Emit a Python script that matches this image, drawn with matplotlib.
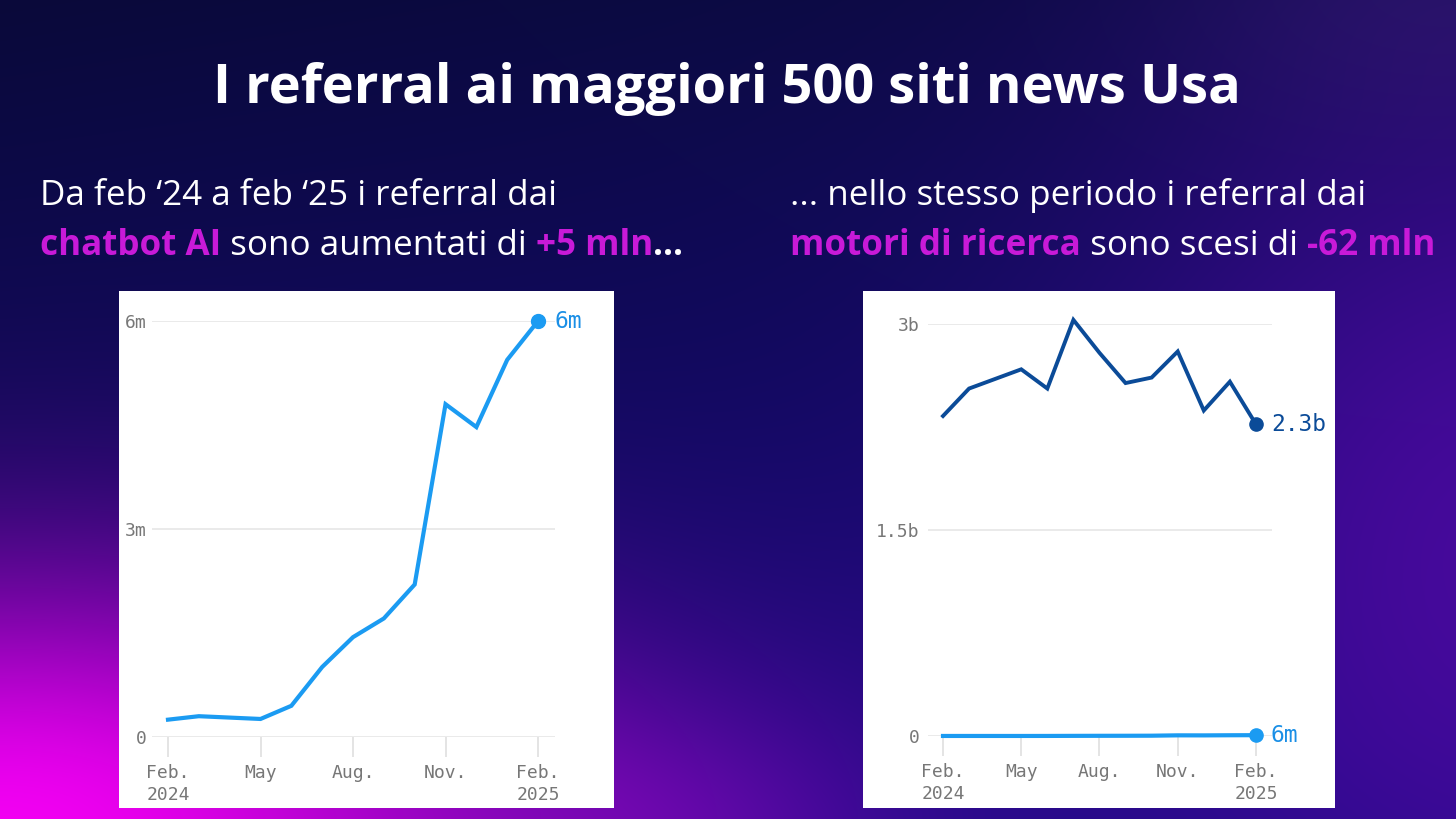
import numpy as np
import matplotlib
matplotlib.use("Agg")
import matplotlib.pyplot as plt
from matplotlib.patches import Rectangle
from matplotlib.colors import to_rgb

# ---------------- data ----------------
title = "I referral ai maggiori 500 siti news Usa"
tick_idx = [0, 3, 6, 9, 12]
tick_labels = ["Feb.\n2024", "May", "Aug.", "Nov.", "Feb.\n2025"]
# monthly referrals Feb 2024 .. Feb 2025
chatbot_m = [0.25, 0.30, 0.28, 0.26, 0.45, 1.01, 1.44, 1.71, 2.20, 4.80, 4.47, 5.44, 6.00]   # millions
search_b = [2.33, 2.53, 2.60, 2.67, 2.53, 3.03, 2.79, 2.57, 2.61, 2.80, 2.37, 2.58, 2.27]    # billions
left_yticks = [0, 3, 6]
left_ylabels = ["0", "3m", "6m"]
right_yticks = [0, 1.5, 3]
right_ylabels = ["0", "1.5b", "3b"]
left_end_label = "6m"
right_end_labels = ["2.3b", "6m"]

W, H, DPI = 1456, 819, 100
MAG = "#c81ad8"
LIGHT = "#1b9bf2"
LIGHT_TXT = "#1a8fe6"
DARK = "#0b4b98"
GRAY = "#777777"
SANS = ["Open Sans", "DejaVu Sans"]
MONO = ["DejaVu Sans Mono"]

fig = plt.figure(figsize=(W / DPI, H / DPI), dpi=DPI)

def fx(px):
    return px / W

def fy(py):
    return 1 - py / H

# ---------------- background ----------------
yy, xx = np.mgrid[0:H, 0:W].astype(float)

def col(h):
    return np.array(to_rgb(h))

s = np.clip(yy / H * 0.85 + xx / W * 0.25, 0, 1)[..., None]
img = col("#0a0a3a") * (1 - s) + col("#160a80") * s

def blob(img, cx, cy, sx, sy, c, a):
    w = a * np.exp(-(((xx - cx) / sx) ** 2 + ((yy - cy) / sy) ** 2) / 2)[..., None]
    return img * (1 - w) + col(c) * w

img = blob(img, W, 0, 200, 110, "#2c1c66", 0.6)
img = blob(img, W + 60, 560, 300, 330, "#4c0aa0", 0.9)
img = blob(img, 660, 840, 160, 90, "#5a0aa8", 0.6)
img = blob(img, 0, 830, 400, 180, "#f200f2", 1.0)

bg = fig.add_axes([0, 0, 1, 1], zorder=0)
bg.imshow(img, extent=[0, W, H, 0], aspect="auto", interpolation="bilinear")
bg.set_xlim(0, W)
bg.set_ylim(H, 0)
bg.axis("off")

# white panels
bg.add_patch(Rectangle((119, 291), 495, 517, facecolor="white", edgecolor="none"))
bg.add_patch(Rectangle((863, 291), 472, 517, facecolor="white", edgecolor="none"))

renderer = fig.canvas.get_renderer()

def width_of(s, **kw):
    t = fig.text(0, 0, "|" + s + "|", **kw)
    w1 = t.get_window_extent(renderer).width
    t.remove()
    t = fig.text(0, 0, "||", **kw)
    w0 = t.get_window_extent(renderer).width
    t.remove()
    return w1 - w0

# ---------------- title ----------------
t = fig.text(fx(727), fy(102.5), title, ha="center", va="baseline", color="white",
             fontsize=40, fontweight="bold", family=SANS)
tw = t.get_window_extent(renderer).width
t.set_fontsize(40 * 1028 / tw)

# ---------------- subtitles ----------------
lines = [
    (40, 205, 523, [("Da feb ‘24 a feb ‘25 i referral dai", "normal", "white")]),
    (40, 255, 641, [("chatbot AI", "bold", MAG), (" sono aumentati di ", "normal", "white"),
                    ("+5 mln", "bold", MAG), ("...", "bold", "white")]),
    (790, 205, 570, [("... nello stesso periodo i referral dai", "normal", "white")]),
    (790, 255, 636, [("motori di ricerca", "bold", MAG), (" sono scesi di ", "normal", "white"),
                     ("-62 mln", "bold", MAG)]),
]
base_fs = 22
ratios = []
for x0, y0, target, segs in lines:
    tot = sum(width_of(sg, fontsize=base_fs, fontweight=wt, family=SANS) for sg, wt, c in segs)
    ratios.append(target / tot)
fs = base_fs * float(np.mean(ratios))
for x0, y0, target, segs in lines:
    x = x0
    for sg, wt, c in segs:
        fig.text(fx(x), fy(y0), sg, ha="left", va="baseline", color=c, fontsize=fs,
                 fontweight=wt, family=SANS)
        x += width_of(sg, fontsize=fs, fontweight=wt, family=SANS)

# ---------------- chart helpers ----------------
def style_axes(ax, yticks, ylabels, ypad):
    ax.set_facecolor("none")
    for sp in ax.spines.values():
        sp.set_visible(False)
    ax.set_yticks(yticks)
    ax.set_yticklabels(ylabels, family=MONO, fontsize=13, color=GRAY)
    ax.set_xticks(tick_idx)
    ax.set_xticklabels(tick_labels, family=MONO, fontsize=13, color=GRAY, linespacing=1.3)
    ax.tick_params(axis="y", length=0, pad=ypad)
    ax.tick_params(axis="x", length=14.4, width=1.1, color="#dcdcdc", pad=5)
    ax.grid(axis="y", color="#e4e4e4", lw=1.1)
    ax.grid(axis="x", visible=False)
    ax.set_axisbelow(True)

x = np.arange(len(chatbot_m))

# left chart
axL = fig.add_axes([fx(152), fy(737), (555 - 152) / W, (737 - 321) / H], zorder=2)
axL.plot(x, chatbot_m, color=LIGHT, lw=3, solid_joinstyle="miter", clip_on=False)
axL.plot(x[-1], chatbot_m[-1], "o", color=LIGHT, ms=10, clip_on=False)
axL.annotate(left_end_label, (x[-1], chatbot_m[-1]), xytext=(16, 0), textcoords="offset pixels",
             va="center", ha="left", color=LIGHT_TXT, fontsize=16.5, family=MONO)
axL.set_xlim(-0.519, 12.55)
axL.set_ylim(0, 6)
style_axes(axL, left_yticks, left_ylabels, 4)

# right chart
chatbot_b = [v / 1000 for v in chatbot_m]
axR = fig.add_axes([fx(928), fy(736), (1272 - 928) / W, (736 - 324) / H], zorder=2)
axR.plot(x, search_b, color=DARK, lw=2.8, solid_joinstyle="miter", clip_on=False)
axR.plot(x[-1], search_b[-1], "o", color=DARK, ms=9.5, clip_on=False)
axR.plot(x, chatbot_b, color=LIGHT, lw=3, clip_on=False)
axR.plot(x[-1], chatbot_b[-1], "o", color=LIGHT, ms=9.5, clip_on=False)
axR.annotate(right_end_labels[0], (x[-1], search_b[-1]), xytext=(15, 0), textcoords="offset pixels",
             va="center", ha="left", color=DARK, fontsize=16.5, family=MONO)
axR.annotate(right_end_labels[1], (x[-1], chatbot_b[-1]), xytext=(15, 0), textcoords="offset pixels",
             va="center", ha="left", color=LIGHT_TXT, fontsize=16.5, family=MONO)
axR.set_xlim(-0.575, 12.615)
axR.set_ylim(0, 3)
style_axes(axR, right_yticks, right_ylabels, 6)

fig.savefig("out.png", dpi=DPI)
